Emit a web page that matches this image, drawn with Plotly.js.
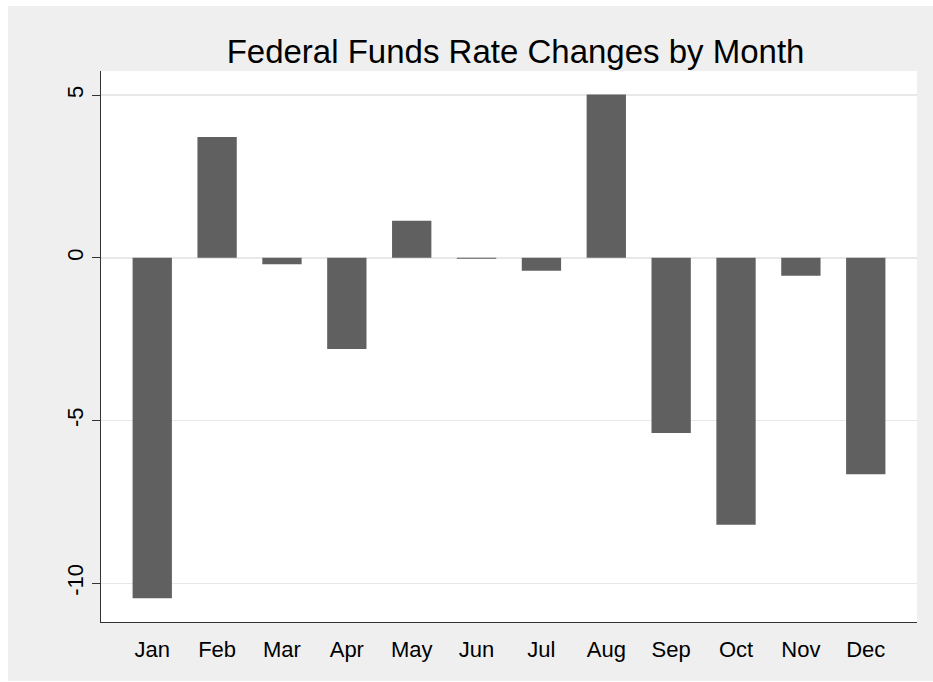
<!DOCTYPE html>
<html>
<head>
<meta charset="utf-8">
<script src="https://cdn.plot.ly/plotly-3.0.1.min.js"></script>
<style>
  html, body { margin: 0; padding: 0; background: #ffffff; }
  #chart { position: absolute; left: 8px; top: 6px; width: 925px; height: 675px; }
</style>
</head>
<body>
<div id="chart"></div>
<script>
const months = ["Jan","Feb","Mar","Apr","May","Jun","Jul","Aug","Sep","Oct","Nov","Dec"];
const rateChanges = [-10.46, 3.71, -0.20, -2.80, 1.14, -0.03, -0.40, 5.02, -5.38, -8.20, -0.55, -6.65];
const yTickValues = [5, 0, -5, -10];
const yTickLabels = ["5", "0", "-5", "-10"];
const chartTitle = "Federal Funds Rate Changes by Month";

const trace = {
  type: "bar",
  x: months.map((m, i) => i),
  y: rateChanges,
  width: 0.606,
  marker: { color: "#606060", line: { width: 0 } },
  hoverinfo: "x+y"
};

const layout = {
  width: 925,
  height: 675,
  paper_bgcolor: "#efefef",
  plot_bgcolor: "#ffffff",
  margin: { l: 93, r: 16, t: 65, b: 59 },
  showlegend: false,
  font: { family: "Liberation Sans, Arial, sans-serif", color: "#000000" },
  title: {
    text: chartTitle,
    font: { size: 33, color: "#000000", family: "Liberation Sans, Arial, sans-serif" },
    x: 0.5487, xref: "container", xanchor: "center",
    y: 0.932, yref: "container", yanchor: "middle"
  },
  xaxis: {
    range: [-0.79, 11.79],
    tickmode: "array",
    tickvals: months.map((m, i) => i),
    ticktext: months,
    ticks: "outside",
    ticklen: 8,
    tickcolor: "rgba(0,0,0,0)",
    tickfont: { size: 22 },
    showgrid: false,
    zeroline: false,
    showline: true,
    linecolor: "#333333",
    linewidth: 1,
    fixedrange: true
  },
  yaxis: {
    range: [-11.19, 5.74],
    tickmode: "array",
    tickvals: yTickValues,
    ticktext: yTickLabels,
    tickangle: -90,
    ticks: "outside",
    ticklen: 8,
    tickwidth: 1,
    tickcolor: "#333333",
    tickfont: { size: 22 },
    showgrid: true,
    gridcolor: "#e8e8e8",
    gridwidth: 1.5,
    zeroline: false,
    showline: true,
    linecolor: "#333333",
    linewidth: 1,
    fixedrange: true
  }
};

Plotly.newPlot("chart", [trace], layout, { displayModeBar: false, staticPlot: true });
</script>
</body>
</html>
